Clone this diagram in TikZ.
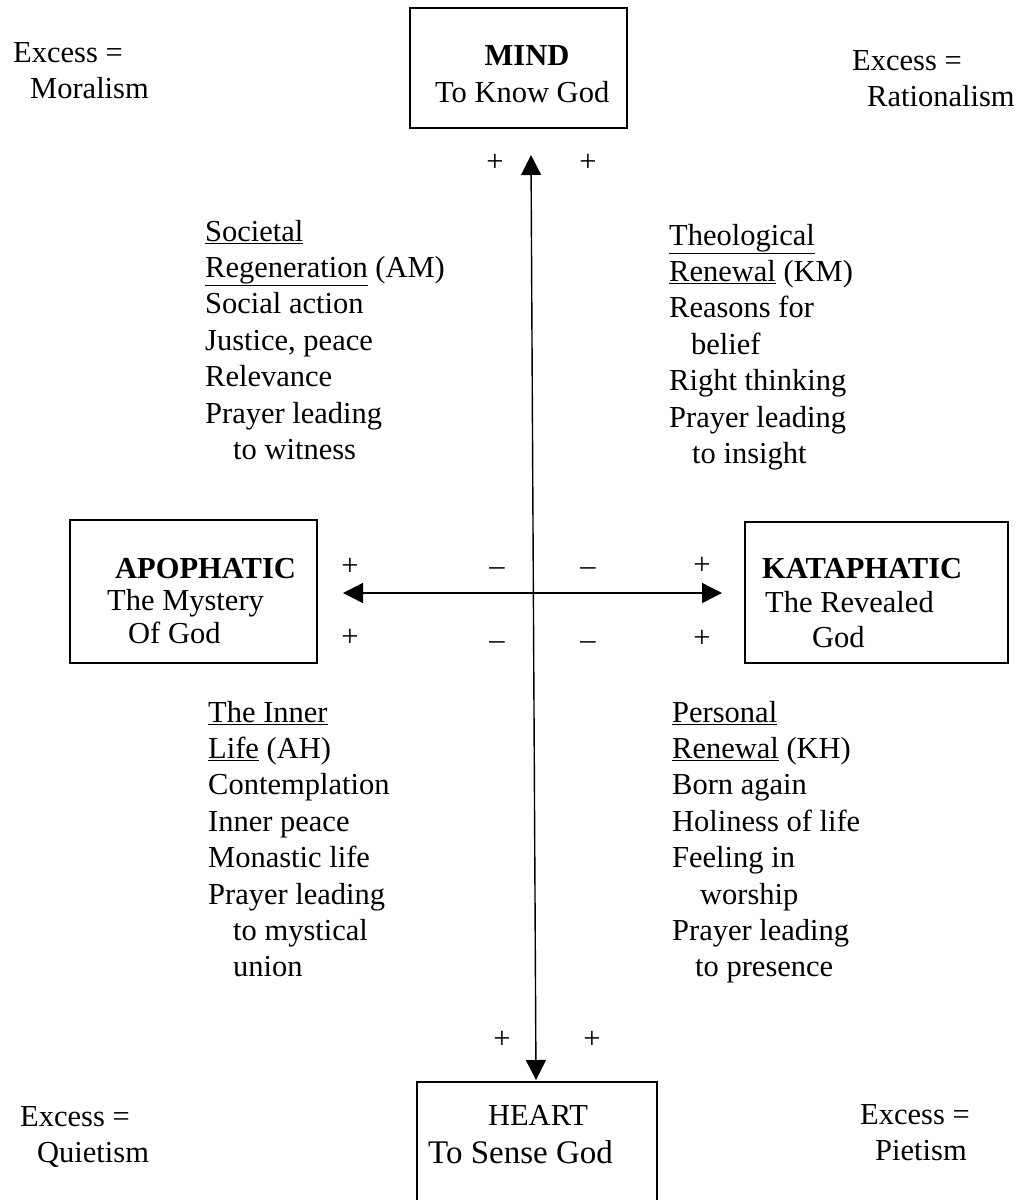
\documentclass[tikz,border=0pt]{standalone}
\usepackage{fontspec}
\setmainfont{Liberation Serif}
\usetikzlibrary{arrows.meta}
\newcommand{\diagfont}{\fontsize{30.5}{36.4}\selectfont}
\tikzset{
  frame/.style={draw, line width=1.4pt, inner sep=0pt},
  block/.style={anchor=north west, inner sep=0pt, align=left, font=\diagfont},
  word/.style={anchor=base west, inner sep=0pt, font=\diagfont},
  mid/.style={anchor=base, inner sep=0pt, font=\diagfont},
  sign/.style={inner sep=0pt, font=\diagfont},
  axis/.style={line width=1.4pt, {Triangle[width=20pt,length=20pt]}-{Triangle[width=20pt,length=20pt]}}
}
\begin{document}
\begin{tikzpicture}[x=1pt,y=-1pt]
\useasboundingbox (0,0) rectangle (1022,1200);

% four boxes
\node[frame, minimum width=217pt, minimum height=120pt] (mind) at (518.5,68) {};
\node[frame, minimum width=247pt, minimum height=143pt] (apo) at (193.5,591.5) {};
\node[frame, minimum width=263pt, minimum height=141pt] (kata) at (876.5,592.5) {};
\node[frame, minimum width=240pt, minimum height=120pt] (heart) at (537,1142) {};

\node[mid] (mindA) at (527,65) {\textbf{MIND}};
\node[word] (mindB) at (435,102) {To Know God};
\node[mid] (heartA) at (538,1125) {HEART};
\node[word] (heartB) at (428,1163) {\fontsize{33}{36.4}\selectfont To Sense God};
\node[word] (apoA) at (115,578) {\textbf{APOPHATIC}};
\node[word] (apoB) at (107,610) {The Mystery};
\node[word] (apoC) at (128,643) {Of God};
\node[word] (kataA) at (762,578) {\textbf{KATAPHATIC}};
\node[word] (kataB) at (765,612) {The Revealed};
\node[word] (kataC) at (812,647) {God};

% corner notes
\node[block] (moral) at (13,36.5) {\strut Excess =\\\hspace*{17pt}Moralism};
\node[block] (ratio) at (852,44.5) {\strut Excess =\\\hspace*{15pt}Rationalism};
\node[block] (quiet) at (20,1100.5) {\strut Excess =\\\hspace*{17pt}Quietism};
\node[block] (piet) at (860,1098.5) {\strut Excess =\\\hspace*{15pt}Pietism};

% quadrant lists
\node[block] (am) at (205,215.5) {\strut\underline{Societal}\\\underline{Regeneration} (AM)\\Social action\\Justice, peace\\Relevance\\Prayer leading\\\hspace*{28pt}to witness};
\node[block] (km) at (669,219.5) {\strut\underline{Theological}\\\underline{Renewal} (KM)\\Reasons for\\\hspace*{22pt}belief\\Right thinking\\Prayer leading\\\hspace*{23pt}to insight};
\node[block] (ah) at (208,696.5) {\strut\underline{The Inner}\\\underline{Life} (AH)\\Contemplation\\Inner peace\\Monastic life\\Prayer leading\\\hspace*{25pt}to mystical\\\hspace*{25pt}union};
\node[block] (kh) at (672,696.5) {\strut\underline{Personal}\\\underline{Renewal} (KH)\\Born again\\Holiness of life\\Feeling in\\\hspace*{28pt}worship\\Prayer leading\\\hspace*{23pt}to presence};

% signs
\node[sign] (pt1) at (495,163) {+};
\node[sign] (pt2) at (588,163) {+};
\node[sign] (pb1) at (502,1040) {+};
\node[sign] (pb2) at (592,1040) {+};
\node[sign] (pl1) at (350,567) {+};
\node[sign] (pl2) at (350,638) {+};
\node[sign] (pr1) at (702,566) {+};
\node[sign] (pr2) at (702,639) {+};
\node[sign] (m1) at (497,572) {--};
\node[sign] (m2) at (588,572) {--};
\node[sign] (m3) at (497,646) {--};
\node[sign] (m4) at (588,646) {--};

% axes
\coordinate (vtop) at (531,155);
\coordinate (vbot) at (536,1080);
\coordinate (hl) at (343,593);
\coordinate (hr) at (722,593);
\draw[axis] (vbot) -- (vtop);
\draw[axis] (hl) -- (hr);
\end{tikzpicture}
\end{document}
